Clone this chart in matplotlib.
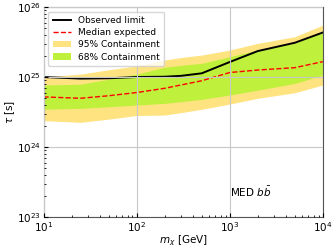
import matplotlib
matplotlib.use('Agg')
import matplotlib.pyplot as plt

# dark matter mass [GeV]
mass = [10, 25, 50, 100, 200, 300, 500, 1000, 2000, 5000, 10000]

observed = [1.0e25, 9.5e24, 9.6e24, 1.0e25, 1.01e25, 1.04e25, 1.13e25, 1.64e25, 2.35e25, 3.09e25, 4.33e25]
median = [5.2e24, 4.97e24, 5.4e24, 6.0e24, 6.9e24, 7.7e24, 8.85e24, 1.16e25, 1.26e25, 1.36e25, 1.66e25]
band68_lo = [3.46e24, 3.57e24, 3.75e24, 3.98e24, 4.2e24, 4.45e24, 4.8e24, 5.53e24, 6.5e24, 8.1e24, 1.07e25]
band68_hi = [7.7e24, 7.9e24, 9.3e24, 1.1e25, 1.38e25, 1.47e25, 1.57e25, 1.95e25, 2.43e25, 3.03e25, 4.58e25]
band95_lo = [2.38e24, 2.25e24, 2.5e24, 2.82e24, 2.86e24, 3.1e24, 3.46e24, 4.11e24, 4.97e24, 5.97e24, 7.7e24]
band95_hi = [1.0e25, 1.1e25, 1.27e25, 1.44e25, 1.75e25, 1.9e25, 2.06e25, 2.43e25, 3.03e25, 3.77e25, 5.53e25]

channel = r'MED $b\bar{b}$'

fig = plt.figure(figsize=(3.36, 2.52), dpi=100)
ax = fig.add_axes([0.1295, 0.139, 0.8315, 0.833])

ax.fill_between(mass, band95_lo, band95_hi, color='#FFE380', lw=0, label='95% Containment')
ax.fill_between(mass, band68_lo, band68_hi, color='#BFF03C', lw=0, label='68% Containment')
ax.plot(mass, observed, color='black', lw=1.4, label='Observed limit')
ax.plot(mass, median, color='red', lw=1.0, ls='--', label='Median expected')

ax.set_xscale('log')
ax.set_yscale('log')
ax.set_xlim(10, 1e4)
ax.set_ylim(1e23, 1e26)
ax.grid(True, which='major', color='#c8c8c8', lw=0.8)
ax.set_axisbelow(False)
ax.tick_params(which='both', direction='in', labelsize=7.5, pad=2)
ax.tick_params(which='major', length=3)
ax.tick_params(which='minor', length=1.5)
for s in ax.spines.values():
	s.set_color('#555555')

ax.set_xlabel(r'$m_\chi$ [GeV]', fontsize=7.5, labelpad=0)
ax.set_ylabel(r'$\tau$ [s]', fontsize=7.5, labelpad=0)

ax.text(1000, 2.25e23, channel, fontsize=7.5, va='center', ha='left')

h, l = ax.get_legend_handles_labels()
order = [2, 3, 0, 1]
ax.legend([h[i] for i in order], [l[i] for i in order], loc='upper left',
	fontsize=6.5, handlelength=2.0, borderpad=0.5, labelspacing=0.35)

fig.savefig('out.png', dpi=100)
